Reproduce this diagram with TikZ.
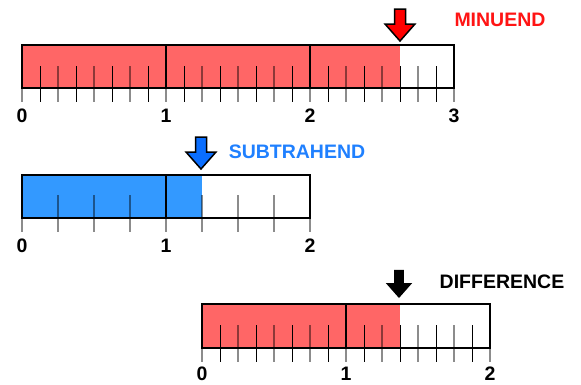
\documentclass[tikz,border=0pt]{standalone}
\usepackage{fontspec}
\setmainfont{Liberation Sans}
\definecolor{barred}{HTML}{FF6666}
\definecolor{barblue}{HTML}{3399FF}
\definecolor{txtred}{HTML}{FF1414}
\definecolor{txtblue}{HTML}{1F80FF}
\definecolor{arrred}{HTML}{FF0000}
\definecolor{arrblue}{HTML}{0A6EFF}
\begin{document}
\begin{tikzpicture}[x=1pt,y=-1pt,
  barframe/.style={draw=black,line width=2pt,inner sep=0,outer sep=0,anchor=north west},
  divline/.style={black,line width=2pt},
  oddtick/.style={black,line width=1pt},
  eventick/.style={black,opacity=0.45,line width=2pt},
  numlabel/.style={font=\fontsize{19.5}{20}\selectfont\bfseries,inner sep=0},
  tagtext/.style={font=\fontsize{19.5}{20}\selectfont\bfseries,inner sep=0},
  ptr/.pic={\path[pic actions] (0,0) -- (-15,-17) -- (-5.5,-17) -- (-5.5,-32) -- (5.5,-32) -- (5.5,-17) -- (15,-17) -- cycle;}
]
\useasboundingbox (0,0) rectangle (581,384);

% ---------- bar 1 : minuend ----------
\fill[barred] (22,45) rectangle (400,88);
\foreach \k in {1,3,...,23} \draw[oddtick] (22+18*\k,66) -- (22+18*\k,102);
\foreach \k in {2,4,6,10,12,14,18,20,22} \draw[eventick] (22+18*\k,66) -- (22+18*\k,102);
\foreach \i in {0,...,3} \draw[eventick] (22+144*\i,88) -- (22+144*\i,102);
\draw[divline] (166,45) -- (166,88);
\draw[divline] (310,45) -- (310,88);
\node[barframe,minimum width=432pt,minimum height=43pt] (bar1) at (22,45) {};
\foreach \i in {0,...,3} \node[numlabel] (a\i) at (22+144*\i,115.5) {\i};
\pic[draw=black,line width=1.5pt,fill=arrred,line join=miter] (arrow1) at (400,41) {ptr};
\node[tagtext,text=txtred] (minuend) at (500,20) {MINUEND};

% ---------- bar 2 : subtrahend ----------
\fill[barblue] (22,175) rectangle (202,218);
\foreach \k in {1,2,3,5,6,7} \draw[eventick] (22+36*\k,195) -- (22+36*\k,232);
\foreach \i in {0,...,2} \draw[eventick] (22+144*\i,218) -- (22+144*\i,232);
\draw[divline] (166,175) -- (166,218);
\node[barframe,minimum width=288pt,minimum height=43pt] (bar2) at (22,175) {};
\foreach \i in {0,...,2} \node[numlabel] (b\i) at (22+144*\i,246) {\i};
\pic[draw=black,line width=1.5pt,fill=arrblue,line join=miter] (arrow2) at (201,169) {ptr};
\node[tagtext,text=txtblue] (subtrahend) at (297,152) {SUBTRAHEND};

% ---------- bar 3 : difference ----------
\fill[barred] (202,304) rectangle (400,348);
\foreach \k in {1,3,...,15} \draw[oddtick] (202+18*\k,325) -- (202+18*\k,362);
\foreach \k in {2,4,6,10,12,14} \draw[eventick] (202+18*\k,325) -- (202+18*\k,362);
\foreach \i in {0,...,2} \draw[eventick] (202+144*\i,348) -- (202+144*\i,362);
\draw[divline] (346,304) -- (346,348);
\node[barframe,minimum width=288pt,minimum height=44pt] (bar3) at (202,304) {};
\foreach \i in {0,...,2} \node[numlabel] (c\i) at (202+144*\i,373.5) {\i};
\pic[fill=black,scale=0.88] (arrow3) at (399,298) {ptr};
\node[tagtext,text=black] (difference) at (502,282) {DIFFERENCE};
\end{tikzpicture}
\end{document}
